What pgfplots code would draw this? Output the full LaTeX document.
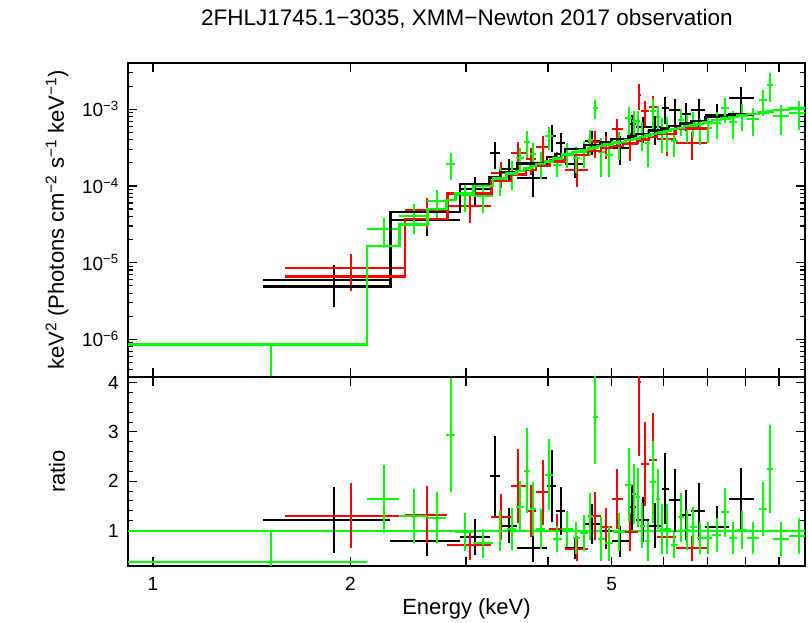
\documentclass[border=0pt]{standalone}
\usepackage{fontspec}
\setmainfont{Liberation Sans}
\usepackage{pgfplots}
\usepackage{pgfplotstable}
\pgfplotsset{compat=1.18}
\definecolor{xgreen}{RGB}{0,255,0}
\definecolor{xred}{RGB}{255,0,0}

% data: E dE flux err+ err- ratio ratio-err
\pgfplotstableread{
E dE F Fe Fem r re
1.885 0.415 5.93e-6 3.26e-6 3.26e-6 1.22 0.67
2.62 0.32 3.63e-5 1.43e-5 1.43e-5 0.79 0.31
3.10 0.16 9.2e-5 3.8e-5 3.8e-5 0.87 0.36
3.32 0.06 2.71e-4 1.06e-4 1.06e-4 2.10 0.82
3.485 0.105 1.68e-4 5.4e-5 5.4e-5 1.10 0.35
3.79 0.20 1.26e-4 5.5e-5 5.5e-5 0.64 0.28
4.05 0.06 4.53e-4 1.73e-4 1.73e-4 1.91 0.73
4.18 0.07 3.61e-4 1.27e-4 1.27e-4 1.39 0.49
4.40 0.15 1.93e-4 6.6e-5 6.6e-5 0.64 0.22
4.675 0.125 3.88e-4 1.37e-4 1.37e-4 1.13 0.40
4.90 0.10 3.68e-4 1.34e-4 1.34e-4 0.99 0.36
5.155 0.155 3.17e-4 1.30e-4 1.30e-4 0.78 0.32
5.38 0.07 6.50e-4 2.0e-4 2.0e-4 1.47 0.45
5.575 0.125 5.84e-4 2.16e-4 2.16e-4 1.22 0.45
5.83 0.13 5.84e-4 2.39e-4 2.39e-4 1.10 0.45
6.04 0.08 1.04e-3 4.05e-4 4.05e-4 1.85 0.72
6.24 0.12 9.71e-4 3.80e-4 3.80e-4 1.61 0.63
6.49 0.13 8.62e-4 3.33e-4 3.33e-4 1.32 0.51
6.785 0.165 9.73e-4 4.06e-4 4.06e-4 1.39 0.58
7.25 0.30 8.50e-4 3.33e-4 3.33e-4 1.07 0.42
7.89 0.34 1.41e-3 5.3e-4 5.3e-4 1.64 0.62
}\datab

\pgfplotstableread{
E dE F Fe Fem r re
2.005 0.415 8.58e-6 4.36e-6 4.36e-6 1.30 0.66
2.615 0.195 4.88e-5 2.15e-5 2.15e-5 1.32 0.58
3.045 0.235 5.56e-5 2.30e-5 2.30e-5 0.70 0.29
3.395 0.115 1.48e-4 5.45e-5 5.45e-5 1.28 0.47
3.605 0.095 2.69e-4 1.06e-4 1.06e-4 1.91 0.75
3.77 0.07 2.25e-4 8.6e-5 8.6e-5 1.39 0.53
3.93 0.09 3.24e-4 1.20e-4 1.20e-4 1.78 0.66
4.135 0.115 2.15e-4 6.3e-5 6.3e-5 1.03 0.30
4.425 0.175 1.60e-4 6.4e-5 6.4e-5 0.63 0.25
4.71 0.11 3.74e-4 1.41e-4 1.41e-4 1.30 0.49
4.91 0.09 3.38e-4 1.16e-4 1.16e-4 1.08 0.37
5.10 0.10 5.49e-4 2.04e-4 2.04e-4 1.64 0.61
5.34 0.14 3.52e-4 1.38e-4 1.38e-4 0.97 0.38
5.51 0.03 1.55e-3 5.8e-4 5.8e-4 4.02 1.5
5.62 0.08 9.47e-4 3.43e-4 3.43e-4 2.35 0.85
5.785 0.085 1.07e-3 4.15e-4 4.15e-4 2.44 0.95
6.065 0.195 4.12e-4 1.66e-4 1.66e-4 0.87 0.35
6.63 0.37 3.60e-4 1.41e-4 1.41e-4 0.64 0.25
}\datar

\pgfplotstableread{
E dE F Fe Fem r re
2.2475 0.1275 2.72e-5 1.15e-5 1.15e-5 1.64 0.69
2.4975 0.1225 4.11e-5 1.74e-5 1.74e-5 1.30 0.55
2.71 0.09 6.31e-5 2.61e-5 2.61e-5 1.26 0.52
2.845 0.045 1.94e-4 7.6e-5 7.6e-5 2.94 1.15
2.985 0.095 7.70e-5 3.10e-5 3.10e-5 0.97 0.39
3.19 0.11 7.4e-5 3.0e-5 3.0e-5 0.74 0.30
3.38 0.08 1.25e-4 5.0e-5 5.0e-5 0.99 0.40
3.52 0.06 1.49e-4 6.1e-5 6.1e-5 1.03 0.42
3.63 0.05 2.34e-4 8.2e-5 8.2e-5 1.48 0.52
3.72 0.04 3.76e-4 1.46e-4 1.46e-4 2.21 0.86
3.80 0.04 2.62e-4 1.0e-4 1.0e-4 1.44 0.55
3.90 0.06 2.01e-4 7.8e-5 7.8e-5 1.03 0.40
4.015 0.055 4.45e-4 1.5e-4 1.5e-4 2.13 0.72
4.135 0.065 1.90e-4 6.0e-5 6.0e-5 0.83 0.26
4.28 0.08 2.65e-4 9.5e-5 9.5e-5 1.03 0.37
4.415 0.055 2.34e-4 8.8e-5 8.8e-5 0.85 0.32
4.535 0.065 2.80e-4 1.06e-4 1.06e-4 0.95 0.36
4.64 0.04 3.96e-4 1.48e-4 1.48e-4 1.28 0.48
4.72 0.04 1.04e-3 3.0e-4 3.0e-4 3.30 0.95
4.82 0.06 2.75e-4 1.46e-4 1.46e-4 0.83 0.44
4.95 0.07 2.57e-4 1.25e-4 1.25e-4 0.74 0.36
5.135 0.115 3.61e-4 1.41e-4 1.41e-4 0.97 0.38
5.315 0.065 7.68e-4 2.99e-4 2.99e-4 1.93 0.75
5.41 0.03 7.08e-4 2.44e-4 2.44e-4 1.74 0.60
5.48 0.04 6.96e-4 2.5e-4 2.5e-4 1.67 0.60
5.57 0.05 4.81e-4 1.97e-4 1.97e-4 1.10 0.45
5.675 0.055 3.61e-4 1.83e-4 1.83e-4 0.79 0.40
5.785 0.055 9.53e-4 3.98e-4 3.98e-4 1.99 0.83
5.88 0.04 8.04e-4 2.94e-4 2.94e-4 1.64 0.60
5.97 0.05 5.16e-4 2.5e-4 2.5e-4 1.03 0.50
6.085 0.065 5.41e-4 2.63e-4 2.63e-4 1.03 0.50
6.23 0.08 3.91e-4 1.49e-4 1.49e-4 0.71 0.27
6.38 0.07 7.30e-4 2.88e-4 2.88e-4 1.27 0.50
6.515 0.065 6.09e-4 2.41e-4 2.41e-4 1.01 0.40
6.66 0.08 6.66e-4 2.47e-4 2.47e-4 1.08 0.40
6.82 0.08 5.49e-4 2.07e-4 2.07e-4 0.85 0.32
7.01 0.11 5.75e-4 2.16e-4 2.16e-4 0.85 0.32
7.235 0.115 6.59e-4 2.53e-4 2.53e-4 0.91 0.35
7.455 0.105 1.04e-3 3.8e-4 3.8e-4 1.37 0.50
7.67 0.11 6.75e-4 2.62e-4 2.62e-4 0.85 0.33
7.915 0.135 8.40e-4 3.24e-4 3.24e-4 1.01 0.39
8.215 0.165 7.40e-4 2.87e-4 2.87e-4 0.85 0.33
8.51 0.13 1.31e-3 5.0e-4 5.0e-4 1.44 0.55
8.73 0.09 2.10e-3 8.4e-4 8.4e-4 2.25 0.90
9.07 0.25 8.11e-4 3.42e-4 3.42e-4 0.83 0.35
9.66 0.34 9.08e-4 3.67e-4 3.67e-4 0.89 0.36
}\datag

% model histograms: left bin edge, model value (last row = right edge)
\pgfplotstableread{
E m
1.47 4.86e-6
2.30 4.6e-5
2.94 1.06e-4
3.26 1.29e-4
3.38 1.53e-4
3.59 1.97e-4
3.99 2.37e-4
4.11 2.60e-4
4.25 3.02e-4
4.55 3.43e-4
4.80 3.72e-4
5.00 4.07e-4
5.31 4.42e-4
5.45 4.79e-4
5.70 5.31e-4
5.96 5.62e-4
6.12 6.03e-4
6.36 6.53e-4
6.62 7.00e-4
6.95 7.94e-4
7.55 8.6e-4
8.23 8.6e-4
}\modb

\pgfplotstableread{
E m
1.59 6.6e-6
2.42 3.7e-5
2.81 7.94e-5
3.28 1.16e-4
3.51 1.41e-4
3.70 1.62e-4
3.84 1.82e-4
4.02 2.09e-4
4.25 2.54e-4
4.60 2.88e-4
4.82 3.13e-4
5.00 3.35e-4
5.20 3.63e-4
5.48 3.85e-4
5.54 4.03e-4
5.70 4.37e-4
5.87 4.73e-4
6.26 5.62e-4
7.00 5.62e-4
}\modr

\pgfplotstableread{
E m
0.91 8.5e-7
2.12 1.66e-5
2.375 3.16e-5
2.62 5.01e-5
2.80 6.61e-5
2.89 7.94e-5
3.08 1.00e-4
3.30 1.26e-4
3.46 1.45e-4
3.58 1.58e-4
3.68 1.70e-4
3.76 1.82e-4
3.84 1.95e-4
3.96 2.09e-4
4.07 2.29e-4
4.20 2.57e-4
4.36 2.75e-4
4.47 2.95e-4
4.60 3.09e-4
4.68 3.16e-4
4.76 3.31e-4
4.88 3.47e-4
5.02 3.72e-4
5.25 3.98e-4
5.38 4.07e-4
5.44 4.17e-4
5.52 4.37e-4
5.62 4.57e-4
5.73 4.79e-4
5.84 4.90e-4
5.92 5.01e-4
6.02 5.25e-4
6.15 5.50e-4
6.31 5.75e-4
6.45 6.03e-4
6.58 6.17e-4
6.74 6.46e-4
6.90 6.76e-4
7.12 7.24e-4
7.35 7.59e-4
7.56 7.94e-4
7.78 8.32e-4
8.05 8.71e-4
8.38 9.12e-4
8.64 9.33e-4
8.82 9.77e-4
9.32 1.02e-3
10.0 1.02e-3
}\modg

\pgfplotsset{
  crosses/.style={only marks, mark=text, text mark={},
    error bars/x dir=both, error bars/x explicit,
    error bars/y dir=both, error bars/y explicit,
    error bars/error mark=none,
    error bars/error bar style={line width=2pt}},
}

\begin{document}
\begin{tikzpicture}
\path[use as bounding box] (0pt,0pt) rectangle (808pt,623pt);
\node[font=\fontsize{22.5}{22.5}\selectfont] at (467pt,604pt)
  {2FHLJ1745.1−3035, XMM−Newton 2017 observation};

\begin{axis}[at={(128pt,246pt)}, anchor=south west,
  scale only axis, width=677pt, height=314pt,
  xmode=log, xmin=0.916, xmax=9.86,
  xtick={1,2,3,4,5,6,7,8,9}, xticklabels={},
  tick align=inside,
  major tick length=9pt, minor tick length=5pt,
  every tick/.style={black, line width=1.1pt},
  axis line style={line width=1.4pt},
  tick label style={font=\fontsize{19}{19}\selectfont, inner sep=0pt},
  yticklabel style={xshift=-9pt},
  ymode=log, ymin=3.22e-7, ymax=4.02e-3,
  ytick={1e-6,1e-5,1e-4,1e-3},
  yticklabels={\mbox{10\textsuperscript{−6}},\mbox{10\textsuperscript{−5}},
    \mbox{10\textsuperscript{−4}},\mbox{10\textsuperscript{−3}}},
  minor ytick={4e-7,5e-7,6e-7,7e-7,8e-7,9e-7,
    2e-6,3e-6,4e-6,5e-6,6e-6,7e-6,8e-6,9e-6,
    2e-5,3e-5,4e-5,5e-5,6e-5,7e-5,8e-5,9e-5,
    2e-4,3e-4,4e-4,5e-4,6e-4,7e-4,8e-4,9e-4,2e-3,3e-3,4e-3},
  ylabel={keV\textsuperscript{2} (Photons cm\textsuperscript{−2} s\textsuperscript{−1} keV\textsuperscript{−1})},
  every axis y label/.style={at={(axis description cs:-0.105,0.5)},
    rotate=90, anchor=center, font=\fontsize{22}{22}\selectfont},
]
\addplot[black, crosses]
  table[x=E, y=F, x error=dE, y error plus=Fe, y error minus=Fem] {\datab};
\addplot[xred, crosses]
  table[x=E, y=F, x error=dE, y error plus=Fe, y error minus=Fem] {\datar};
\addplot[xgreen, crosses]
  table[x=E, y=F, x error=dE, y error plus=Fe, y error minus=Fem] {\datag};
% lowest green bin: its point lies below the panel, only the upper bar shows
\addplot[xgreen, crosses] coordinates {(1.515,3.25e-7) += (0,5.1e-7) -= (0,0)};
\addplot[black, const plot, mark=none, line width=2.4pt] table[x=E, y=m] {\modb};
\addplot[xred, const plot, mark=none, line width=2.4pt] table[x=E, y=m] {\modr};
\addplot[xgreen, const plot, mark=none, line width=2.4pt] table[x=E, y=m] {\modg};
\end{axis}

\begin{axis}[at={(128pt,57pt)}, anchor=south west,
  scale only axis, width=677pt, height=189pt,
  xmode=log, xmin=0.916, xmax=9.86,
  xtick={1,2,3,4,5,6,7,8,9},
  xticklabels={\mbox{1},\mbox{2},{},{},\mbox{5},{},{},{},{}},
  tick align=inside,
  major tick length=9pt, minor tick length=5pt,
  every tick/.style={black, line width=1.1pt},
  axis line style={line width=1.4pt},
  tick label style={font=\fontsize{19}{19}\selectfont, inner sep=0pt},
  yticklabel style={xshift=-9pt},
  xticklabel style={yshift=-11pt},
  ymin=0.28, ymax=4.115,
  ytick={1,2,3,4}, minor y tick num=4,
  yticklabels={\mbox{1},\mbox{2},\mbox{3},\mbox{4}},
  ylabel={ratio}, xlabel={Energy (keV)},
  every axis y label/.style={at={(axis description cs:-0.105,0.5)},
    rotate=90, anchor=center, font=\fontsize{22}{22}\selectfont},
  every axis x label/.style={at={(axis description cs:0.5,0)},
    yshift=-43pt, anchor=center, font=\fontsize{22}{22}\selectfont},
]
\addplot[xgreen, line width=2pt] coordinates {(0.9,1) (10,1)};
\addplot[black, crosses] table[x=E, y=r, x error=dE, y error=re] {\datab};
\addplot[xred, crosses] table[x=E, y=r, x error=dE, y error=re] {\datar};
\addplot[xgreen, crosses] table[x=E, y=r, x error=dE, y error=re] {\datag};
\addplot[xgreen, crosses] coordinates {(1.515,0.37) += (0.605,0.60) -= (0.598,0.09)};
\end{axis}
\end{tikzpicture}
\end{document}
